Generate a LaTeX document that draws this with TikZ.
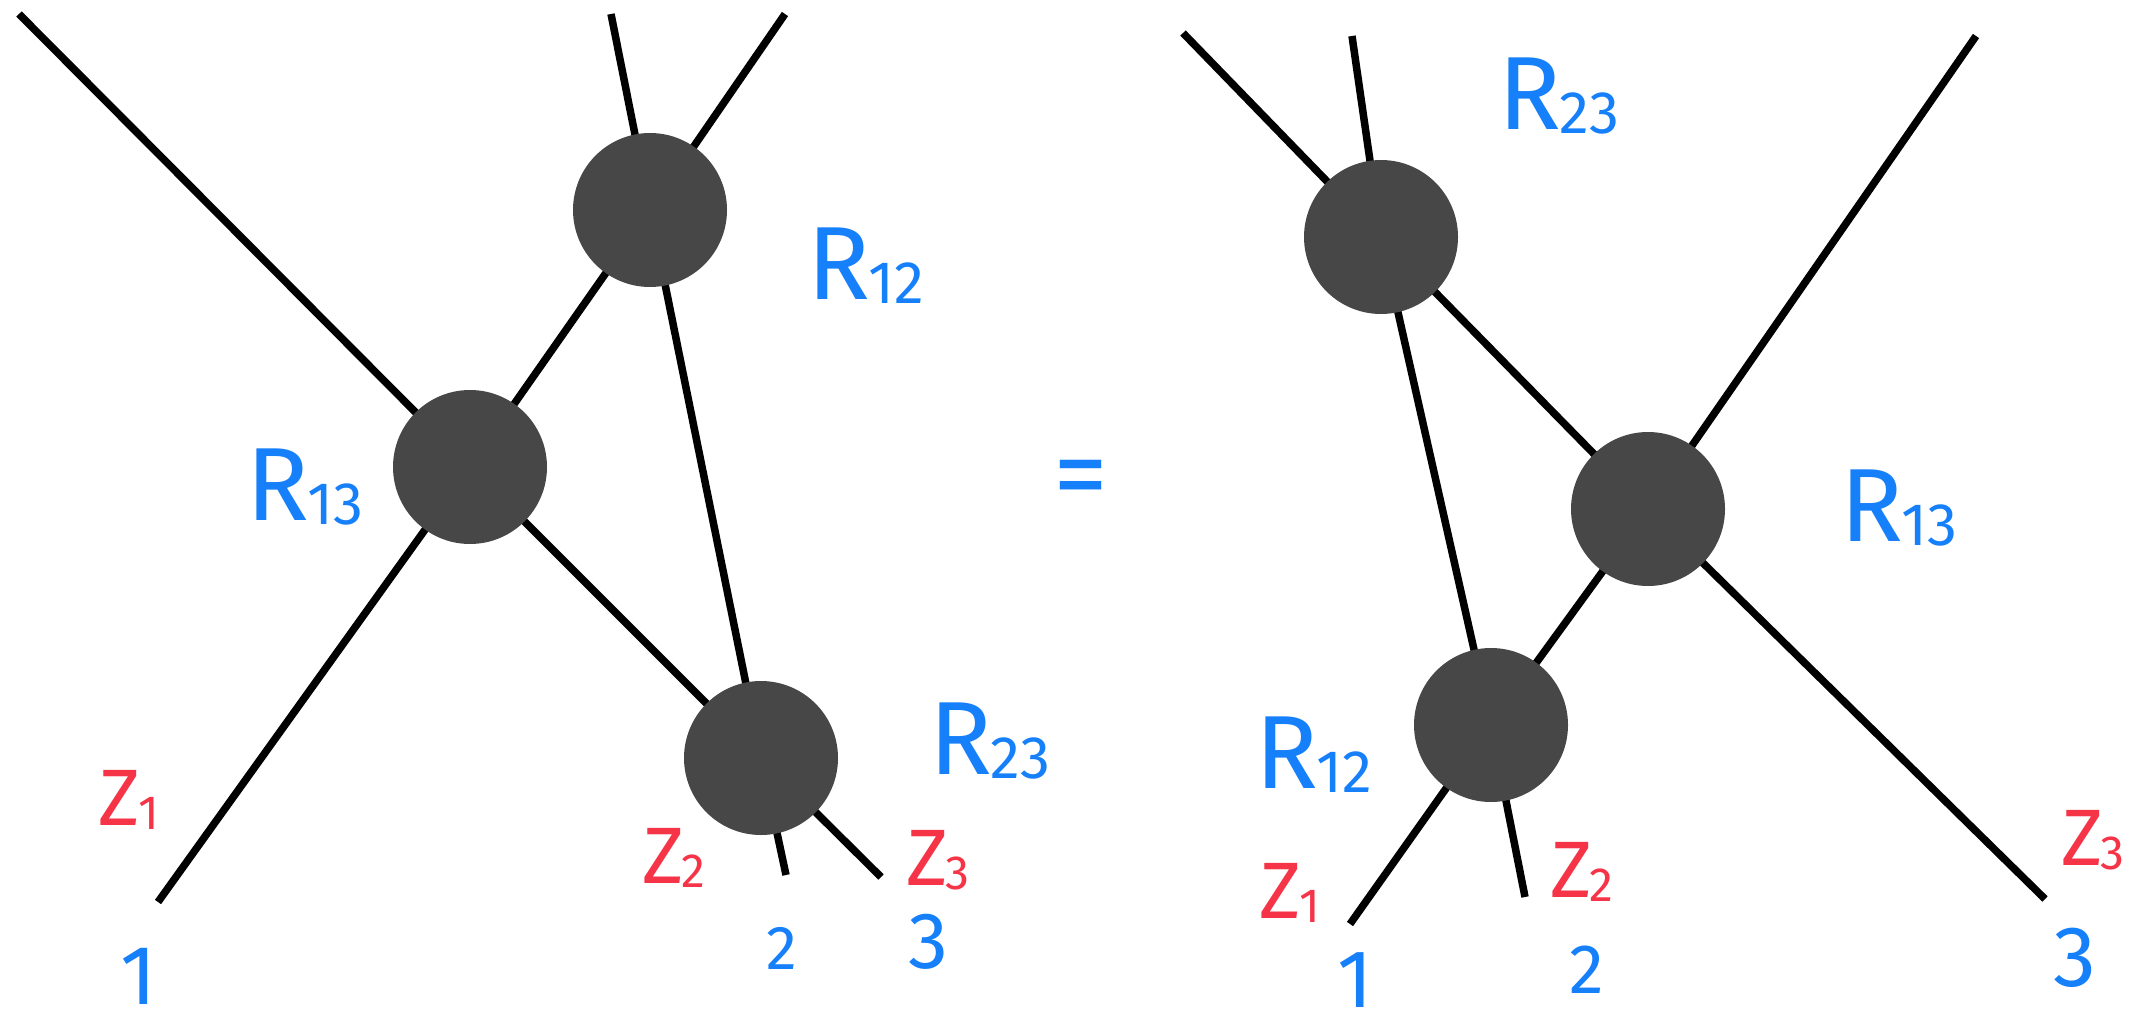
\documentclass[tikz,border=0pt]{standalone}
\usepackage{fontspec}
\setmainfont{Fira Sans}
\usetikzlibrary{backgrounds}
\definecolor{inkblue}{RGB}{22,128,250}
\definecolor{inkred}{RGB}{245,52,72}
\definecolor{blob}{HTML}{474747}
\newcommand{\Rlab}[1]{\fontsize{104}{104}\selectfont R\kern-0.02em\raisebox{-0.04em}{\fontsize{60}{60}\selectfont #1}}
\newcommand{\Zlab}[1]{\fontsize{80}{80}\selectfont Z\kern-0.03em\raisebox{-0.05em}{\fontsize{48}{48}\selectfont #1}}
\newcommand{\Nlab}[2]{\fontsize{#1}{#1}\selectfont #2}
\begin{document}
\begin{tikzpicture}[x=1pt,y=-1pt,
  vertex/.style={circle, fill=blob, minimum size=154pt, inner sep=0pt},
  strand/.style={line width=7.5pt, black},
  rlabel/.style={text=inkblue, inner sep=0pt},
  zlabel/.style={text=inkred, inner sep=0pt},
  numlabel/.style={text=inkblue, inner sep=0pt}]
\useasboundingbox (0,0) rectangle (2152,1027);

% ---------- left diagram ----------
\node[vertex] (L12) at (650,210) {};
\node[vertex] (L13) at (470,467) {};
\node[vertex] (L23) at (761,758) {};
\coordinate (La1) at (158,902);
\coordinate (Lb1) at (785,14);
\coordinate (La2) at (786,875);
\coordinate (Lb2) at (611,14);
\coordinate (La3) at (881,877);
\coordinate (Lb3) at (19,14);

% ---------- right diagram ----------
\node[vertex] (R23) at (1381,237) {};
\node[vertex] (R13) at (1648,509) {};
\node[vertex] (R12) at (1491,725) {};
\coordinate (Ra1) at (1350,924);
\coordinate (Rb1) at (1976,36);
\coordinate (Ra2) at (1525,897);
\coordinate (Rb2) at (1352,36);
\coordinate (Ra3) at (2045,899);
\coordinate (Rb3) at (1183,33);

\begin{pgfonlayer}{background}
\draw[strand] (La1) -- (L13.center) -- (L12.center) -- (Lb1);
\draw[strand] (La2) -- (L23.center) -- (L12.center) -- (Lb2);
\draw[strand] (La3) -- (L23.center) -- (L13.center) -- (Lb3);
\draw[strand] (Ra1) -- (R12.center) -- (R13.center) -- (Rb1);
\draw[strand] (Ra2) -- (R12.center) -- (R23.center) -- (Rb2);
\draw[strand] (Ra3) -- (R13.center) -- (R23.center) -- (Rb3);
\end{pgfonlayer}

% labels left
\node[rlabel] (tL12) at (866,266) {\Rlab{12}};
\node[rlabel] (tL13) at (305,487) {\Rlab{13}};
\node[rlabel] (tL23) at (990,741) {\Rlab{23}};
\node[zlabel] (zL1) at (129,800) {\Zlab{1}};
\node[zlabel] (zL2) at (674,858) {\Zlab{2}};
\node[zlabel] (zL3) at (938,860) {\Zlab{3}};
\node[numlabel] (nL1) at (139,976) {\Nlab{84}{1}};
\node[numlabel] (nL2) at (782,948) {\Nlab{62}{2}};
\node[numlabel] (nL3) at (928,942) {\Nlab{80}{3}};

\node[numlabel] (eq) at (1081,486) {\Nlab{110}{=}};

% labels right
\node[rlabel] (tR23) at (1559,96) {\Rlab{23}};
\node[rlabel] (tR13) at (1899,508) {\Rlab{13}};
\node[rlabel] (tR12) at (1314,755) {\Rlab{12}};
\node[zlabel] (zR1) at (1290,893) {\Zlab{1}};
\node[zlabel] (zR2) at (1582,872) {\Zlab{2}};
\node[zlabel] (zR3) at (2093,840) {\Zlab{3}};
\node[numlabel] (nR1) at (1355,980) {\Nlab{82}{1}};
\node[numlabel] (nR2) at (1587,970) {\Nlab{70}{2}};
\node[numlabel] (nR3) at (2075,958) {\Nlab{86}{3}};
\end{tikzpicture}
\end{document}
